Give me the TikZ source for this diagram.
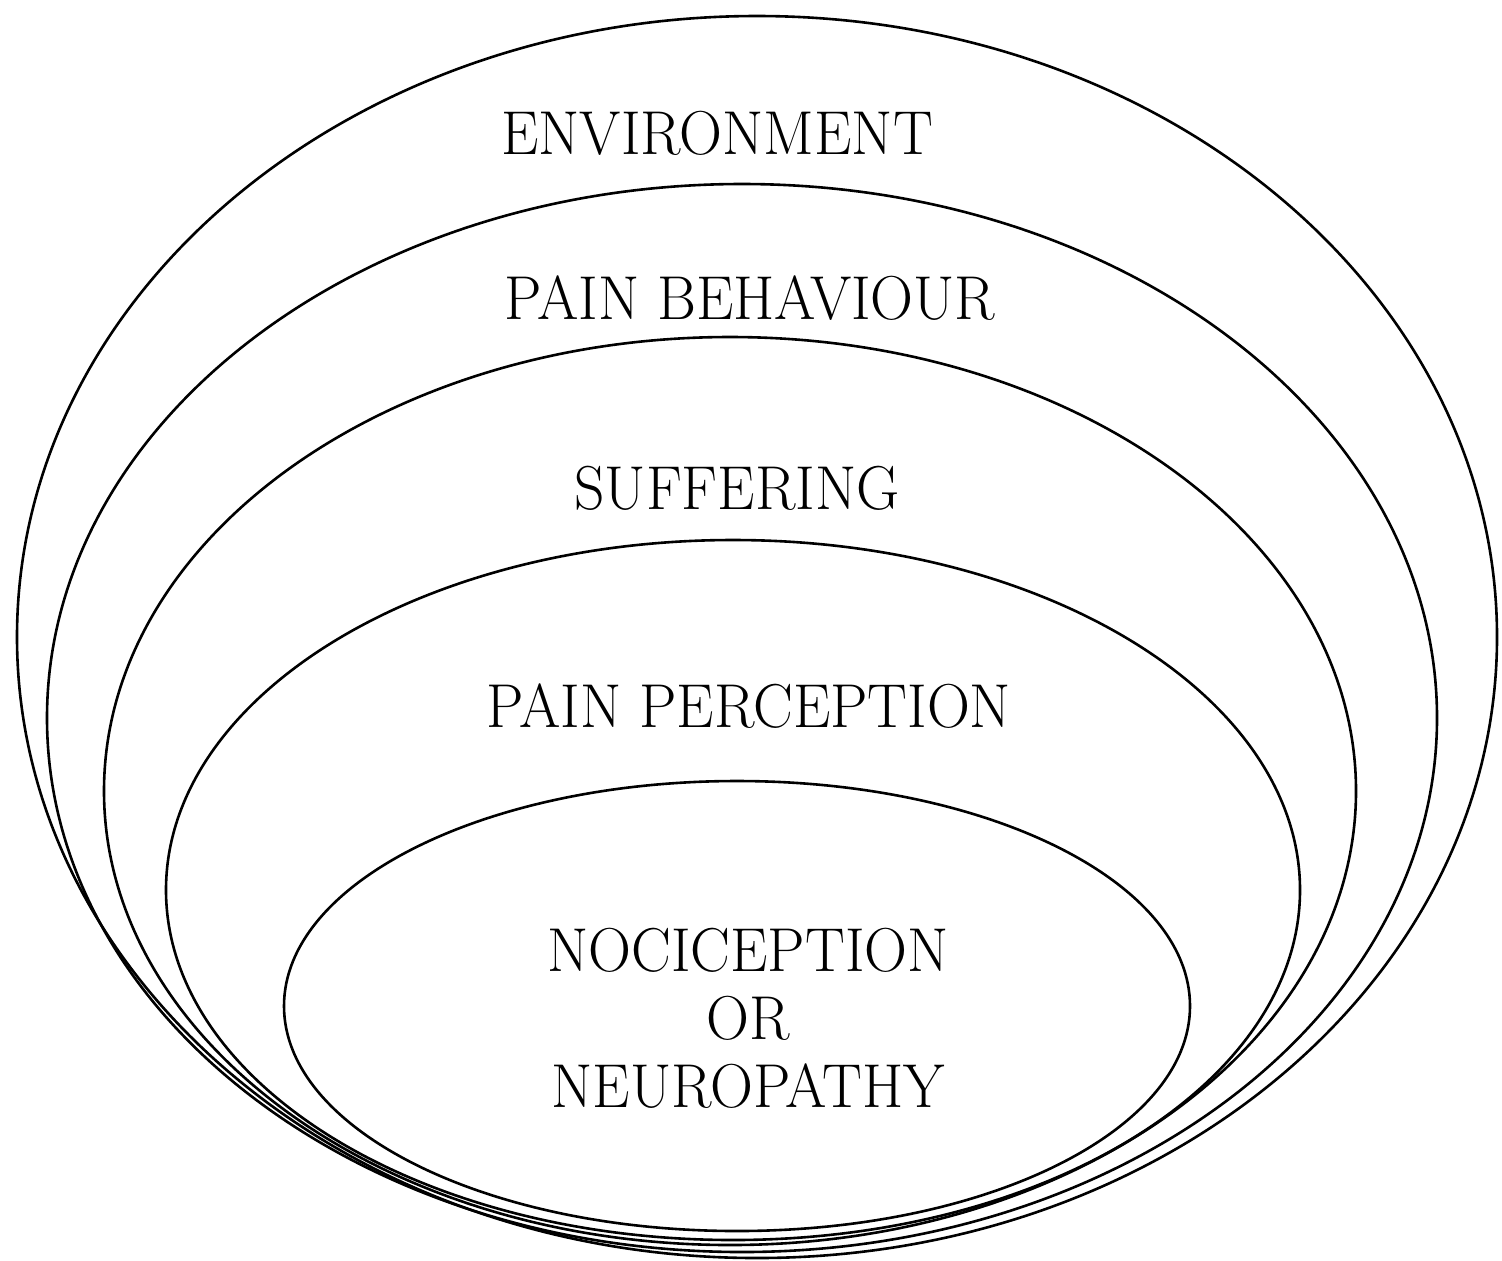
\documentclass[tikz,border=0pt]{standalone}
\usepackage{tikz}
\usetikzlibrary{calc}

\begin{document}
\begin{tikzpicture}[x=0.5pt,y=-0.5pt,
	layer/.style={line width=1.3pt},
	lbl/.style={font=\fontsize{31}{34}\selectfont, xscale=0.96, align=center, inner sep=0pt}]
	\useasboundingbox (0,0) rectangle (1502,1260);
	
	% centres of the ellipses
	\coordinate (CE) at (757,637);
	\coordinate (CB) at (742,718);
	\coordinate (CS) at (730,791);
	\coordinate (CP) at (733,890);
	\coordinate (CN) at (737,1006);
	
	% ellipses, outer to inner
	\draw[layer] (CE) ellipse [x radius=370pt, y radius=310.5pt];
	\draw[layer] (CB) ellipse [x radius=347.5pt, y radius=267pt];
	\draw[layer] (CS) ellipse [x radius=313pt, y radius=227pt];
	\draw[layer] (CP) ellipse [x radius=283.5pt, y radius=175pt];
	\draw[layer] (CN) ellipse [x radius=226.5pt, y radius=112.5pt];
	
	% labels
	\node[lbl] (env) at (717,133) {ENVIRONMENT};
	\node[lbl] (behav) at (750,298) {PAIN BEHAVIOUR};
	\node[lbl] (suff) at (737,488) {SUFFERING};
	\node[lbl] (perc) at (749,706) {PAIN PERCEPTION};
	\node[lbl] (noci) at (748,1018) {NOCICEPTION\\OR\\NEUROPATHY};
\end{tikzpicture}
\end{document}
